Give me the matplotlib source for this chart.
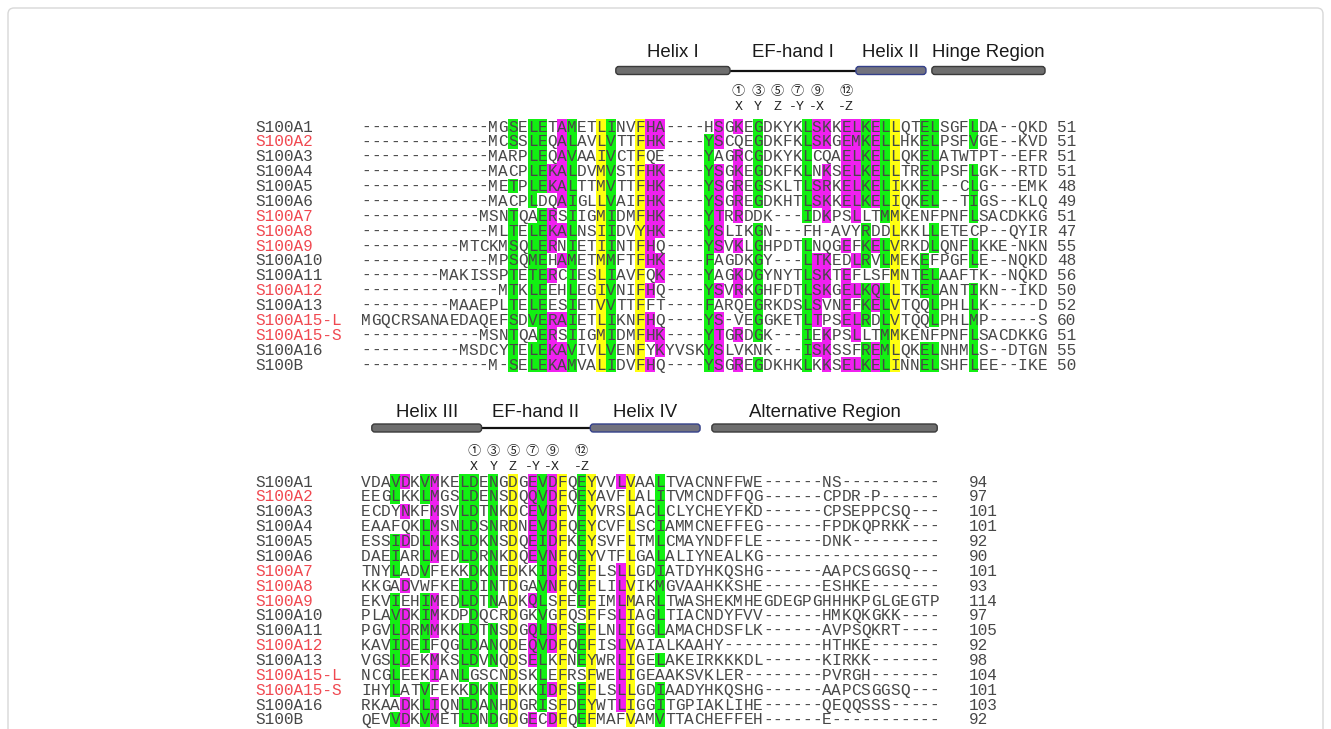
import matplotlib
matplotlib.use('Agg')
import matplotlib.pyplot as plt
from matplotlib.patches import Rectangle, FancyBboxPatch

# ---- data ----
names = ['S100A1', 'S100A2', 'S100A3', 'S100A4', 'S100A5', 'S100A6', 'S100A7',
         'S100A8', 'S100A9', 'S100A10', 'S100A11', 'S100A12', 'S100A13',
         'S100A15-L', 'S100A15-S', 'S100A16', 'S100B']
red_names = ['S100A2', 'S100A7', 'S100A8', 'S100A9', 'S100A12', 'S100A15-L', 'S100A15-S']

top_seqs = [
    "-------------MGSELETAMETLINVFHA----HSGKEGDKYKLSKKELKELLQTELSGFLDA--QKD",
    "-------------MCSSLEQALAVLVTTFHK----YSCQEGDKFKLSKGEMKELLHKELPSFVGE--KVD",
    "-------------MARPLEQAVAAIVCTFQE----YAGRCGDKYKLCQAELKELLQKELATWTPT--EFR",
    "-------------MACPLEKALDVMVSTFHK----YSGKEGDKFKLNKSELKELLTRELPSFLGK--RTD",
    "-------------METPLEKALTTMVTTFHK----YSGREGSKLTLSRKELKELIKKEL--CLG---EMK",
    "-------------MACPLDQAIGLLVAIFHK----YSGREGDKHTLSKKELKELIQKEL--TIGS--KLQ",
    "------------MSNTQAERSIIGMIDMFHK----YTRRDDK---IDKPSLLTMMKENFPNFLSACDKKG",
    "-------------MLTELEKALNSIIDVYHK----YSLIKGN---FH-AVYRDDLKKLLETECP--QYIR",
    "----------MTCKMSQLERNIETIINTFHQ----YSVKLGHPDTLNQGEFKELVRKDLQNFLKKE-NKN",
    "-------------MPSQMEHAMETMMFTFHK----FAGDKGY---LTKEDLRVLMEKEFPGFLE--NQKD",
    "--------MAKISSPTETERCIESLIAVFQK----YAGKDGYNYTLSKTEFLSFMNTELAAFTK--NQKD",
    "--------------MTKLEEHLEGIVNIFHQ----YSVRKGHFDTLSKGELKQLLTKELANTIKN--IKD",
    "---------MAAEPLTELEESIETVVTTFFT----FARQEGRKDSLSVNEFKELVTQQLPHLLK-----D",
    "MGQCRSANAEDAQEFSDVERAIETLIKNFHQ----YS-VEGGKETLTPSELRDLVTQQLPHLMP-----S",
    "------------MSNTQAERSIIGMIDMFHK----YTGRDGK---IEKPSLLTMMKENFPNFLSACDKKG",
    "----------MSDCYTELEKAVIVLVENFYKYVSKYSLVKNK---ISKSSFREMLQKELNHMLS--DTGN",
    "-------------M-SELEKAMVALIDVFHQ----YSGREGDKHKLKKSELKELINNELSHFLEE--IKE",
]
top_marks = [
    "g16 g18 g19 m21 g22 y25 g26 y29 m30 m31 m37 m39 g41 g46 m47 m48 m50 m51 g52 m53 g54 y55 g58 g59 g63",
    "g16 g18 g19 m21 g22 y25 g26 y29 m30 m31 g36 m37 g41 g46 m47 m48 m50 m51 g52 m53 g54 y55 g58 g59 g63",
    "g18 g19 m21 g22 y25 g26 y29 g36 m39 g41 g46 m50 m51 g52 m53 g54 y55 g58 g59",
    "g18 g19 m20 m21 g22 y25 g26 y29 m30 m31 g36 m37 m39 g41 g46 m48 m50 m51 g52 m53 g54 y55 g58 g59 g63",
    "g16 g18 g19 m20 m21 g22 y25 g26 y29 m30 m31 g36 m37 m39 g41 g46 m47 m48 m50 m51 g52 m53 g54 y55 g58 g59 g63",
    "g18 m21 g22 y25 g26 y29 m30 m31 g36 m37 m39 g41 g46 m47 m48 m50 m51 g52 m53 g54 y55 g58 g59 g63",
    "g16 g19 m20 g22 y25 g26 y29 m30 m31 g36 m37 m39 g46 m48 m51 g54 y55 g63",
    "g16 g18 g19 m20 m21 g22 y25 g26 y29 m30 m31 g36 m37 g41 g52 y55 g59",
    "g16 g18 g19 m20 g22 y25 g26 y29 m30 g36 m37 m39 g41 g46 m50 g52 m53 g54 y55 g59 g63",
    "g16 g18 g19 m21 g22 y25 g26 y29 m30 m31 g36 g41 g46 m47 m48 m51 g52 g54 y55 g58 g63",
    "g16 g18 g19 m20 g22 y25 g26 y29 m31 g36 m39 g41 g46 m47 m48 m50 y55 g58 g59",
    "g16 g18 g19 g22 y25 g26 y29 m30 g36 m37 m39 g41 g46 m47 m48 m50 m51 g52 m53 g54 y55 g58 g59 g63",
    "g16 g18 g19 g22 y25 g26 y29 g36 g41 g46 m47 m50 g52 m53 g54 y55 g59 g63",
    "g16 g18 g19 m20 m21 g22 y25 g26 y29 m30 g36 m37 g41 g46 m47 m50 m51 g52 g54 y55 g59 g63",
    "g16 g19 m20 g22 y25 g26 y29 m30 m31 g36 m37 m39 g41 g46 m48 m51 g54 y55 g63",
    "g16 g18 g19 m20 m21 g22 y25 g26 y29 m31 g36 m37 g46 m47 m48 g52 m53 g54 y55 g58 g59 g63",
    "g16 g18 g19 m20 m21 g22 y25 g26 y29 m30 g36 m37 m39 g41 g46 m48 m50 m51 g52 m53 g54 y55 g58 g59 g63",
]
top_counts = [51, 51, 51, 51, 48, 49, 51, 47, 55, 48, 56, 50, 52, 60, 51, 55, 50]

bottom_seqs = [
    "VDAVDKVMKELDENGDGEVDFQEYVVLVAALTVACNNFFWE------NS----------",
    "EEGLKKLMGSLDENSDQQVDFQEYAVFLALITVMCNDFFQG------CPDR-P------",
    "ECDYNKFMSVLDTNKDCEVDFVEYVRSLACLCLYCHEYFKD------CPSEPPCSQ---",
    "EAAFQKLMSNLDSNRDNEVDFQEYCVFLSCIAMMCNEFFEG------FPDKQPRKK---",
    "ESSIDDLMKSLDKNSDQEIDFKEYSVFLTMLCMAYNDFFLE------DNK---------",
    "DAEIARLMEDLDRNKDQEVNFQEYVTFLGALALIYNEALKG------------------",
    "TNYLADVFEKKDKNEDKKIDFSEFLSLLGDIATDYHKQSHG------AAPCSGGSQ---",
    "KKGADVWFKELDINTDGAVNFQEFLILVIKMGVAAHKKSHE------ESHKE-------",
    "EKVIEHIMEDLDTNADKQLSFEEFIMLMARLTWASHEKMHEGDEGPGHHHKPGLGEGTP",
    "PLAVDKIMKDPDQCRDGKVGFQSFFSLIAGLTIACNDYFVV------HMKQKGKK----",
    "PGVLDRMMKKLDTNSDGQLDFSEFLNLIGGLAMACHDSFLK------AVPSQKRT----",
    "KAVIDEIFQGLDANQDEQVDFQEFISLVAIALKAAHY----------HTHKE-------",
    "VGSLDEKMKSLDVNQDSELKFNEYWRLIGELAKEIRKKKDL------KIRKK-------",
    "NCGLEEKIANLGSCNDSKLEFRSFWELIGEAAKSVKLER--------PVRGH-------",
    "IHYLATVFEKKDKNEDKKIDFSEFLSLLGDIAADYHKQSHG------AAPCSGGSQ---",
    "RKAADKLIQNLDANHDGRISFDEYWTLIGGITGPIAKLIHE------QEQQSSS-----",
    "QEVVDKVMETLDNDGDGECDFQEFMAFVAMVTTACHEFFEH------E-----------",
]
bottom_marks = [
    "g4 m5 g7 m8 g11 g12 g14 y16 m18 g19 m20 y21 g23 y24 m27 y28 g31",
    "g4 g7 m8 g11 g12 g14 y16 m18 g19 m20 y21 g23 y24 y28 g31",
    "m5 m8 g11 g12 g14 y16 m18 g19 m20 y21 g23 y24 y28 g31",
    "g7 m8 g11 g12 g14 y16 m18 g19 m20 y21 g23 y24 y28 g31",
    "g4 m5 g7 m8 g11 g12 g14 y16 m18 g19 m20 y21 g23 y24 y28 g31",
    "g4 g7 m8 g11 g12 g14 y16 m18 g19 m20 y21 g23 y24 y28 g31",
    "g4 g7 g12 g14 y16 g19 m20 y21 g23 y24 m27 y28 g31",
    "m5 g11 g12 g14 y16 g19 m20 y21 g23 y24 m27 y28 g31",
    "g4 g7 m8 g11 g12 g14 y16 m18 g19 y21 g23 y24 m27 y28 g31",
    "g4 m5 g7 m8 g12 y16 g19 y21 y24 m27 y28 g31",
    "g4 m5 g7 m8 g11 g12 g14 y16 m18 g19 m20 y21 g23 y24 m27 y28 g31",
    "g4 m5 g7 g11 g12 g14 y16 m18 g19 m20 y21 g23 y24 m27 y28",
    "g4 m5 m8 g11 g12 g14 y16 m18 g19 y21 g23 y24 m27 y28 g31",
    "g4 m8 g11 y16 g19 y21 y24 m27 y28",
    "g4 g7 g12 g14 y16 g19 m20 y21 g23 y24 m27 y28 g31",
    "m5 g7 m8 g11 g12 g14 y16 g19 y21 g23 y24 m27 y28 g31",
    "g4 m5 g7 m8 g11 g12 g14 y16 m18 m20 y21 g23 y24 y28 g31",
]
bottom_counts = [94, 97, 101, 101, 92, 90, 101, 93, 114, 97, 105, 92, 98, 104, 101, 103, 92]

# header: (label, start col, end col, kind) ; kind: helix / helix2 / loop
top_regions = [("Helix I", 27.0, 38.65, "helix"), ("EF-hand I", 38.65, 51.5, "loop"),
               ("Helix II", 51.5, 58.65, "helix2"), ("Hinge Region", 59.25, 70.8, "helix")]
bottom_regions = [("Helix III", 2.1, 13.3, "helix"), ("EF-hand II", 13.3, 24.4, "loop"),
                  ("Helix IV", 24.4, 35.6, "helix2"), ("Alternative Region", 36.8, 59.8, "helix")]
top_loop_cols = [39, 41, 43, 45, 47, 50]
bottom_loop_cols = [12, 14, 16, 18, 20, 23]
loop_nums = ['\u2460', '\u2462', '\u2464', '\u2466', '\u2468', '\u246b']
loop_axes = ['X', 'Y', 'Z', '-Y', '-X', '-Z']

# ---- layout ----
W, H = 1331, 729
X0 = 361.0        # left edge of column 1
CW = 9.8          # column width
RH = 14.875       # row height
NAME_X = 255
colors = {'g': '#12f012', 'm': '#f020f0', 'y': '#ffff10'}
txt_col = '#474747'
red_col = '#f04850'
mono = 'Liberation Mono'
fs = 11.6

fig = plt.figure(figsize=(W / 100, H / 100), dpi=100)
ax = fig.add_axes([0, 0, 1, 1])
ax.set_xlim(0, W)
ax.set_ylim(H, 0)
ax.axis('off')

ax.add_patch(FancyBboxPatch((8, 8), W - 16, H + 20, boxstyle='round,pad=0,rounding_size=6',
                            fc='white', ec='#d8d8d8', lw=1))


def colx(c):
    return X0 + (c - 1) * CW


def draw_block(seqs, marks, counts, y0, count_col):
    for i, (nm, s, mk, n) in enumerate(zip(names, seqs, marks, counts)):
        y = y0 + i * RH
        for tok in mk.split():
            c = int(tok[1:])
            ax.add_patch(Rectangle((colx(c), y - RH / 2), CW, RH, fc=colors[tok[0]], ec='none', zorder=1))
        col = red_col if nm in red_names else txt_col
        ax.text(NAME_X, y + 5, nm, fontsize=fs, family=mono, color=col, va='baseline', ha='left', zorder=3)
        for j, ch in enumerate(s):
            ax.text(colx(j + 1) + CW / 2, y + 5, ch, fontsize=fs, family=mono, color=txt_col,
                    va='baseline', ha='center', zorder=3)
        ax.text(colx(count_col), y + 5, str(n), fontsize=fs, family=mono, color=txt_col,
                va='baseline', ha='left', zorder=3)


def draw_header(regions, loop_cols, y_label, y_bar, y_num, y_axis):
    for label, c0, c1, kind in regions:
        x0, x1 = colx(c0), colx(c1)
        if kind == 'loop':
            ax.plot([x0, x1], [y_bar, y_bar], color='#111111', lw=1.6, zorder=2, solid_capstyle='butt')
        else:
            fc = '#6e6e6e' if kind == 'helix' else '#72727e'
            ec = '#3a3a3a' if kind == 'helix' else '#34408a'
            ax.add_patch(FancyBboxPatch((x0, y_bar - 4), x1 - x0, 8,
                                        boxstyle='round,pad=0,rounding_size=3',
                                        fc=fc, ec=ec, lw=1.0, zorder=3))
        ax.text((x0 + x1) / 2, y_label, label, fontsize=13.4, family='Liberation Sans',
                color='#1a1a1a', ha='center', va='center')
    for c, num, lab in zip(loop_cols, loop_nums, loop_axes):
        xc = colx(c) + CW / 2
        ax.text(xc, y_num, num, fontsize=9.5, family=['Noto Sans CJK JP', 'DejaVu Sans'],
                color='#222222', ha='center', va='center')
        ax.text(xc, y_axis, lab, fontsize=9.5, family=mono, color='#222222', ha='center', va='center')


draw_header(top_regions, top_loop_cols, 52, 70.5, 91, 107)
draw_header(bottom_regions, bottom_loop_cols, 412, 428, 451, 467)
draw_block(top_seqs, top_marks, top_counts, 126.5, 72)
draw_block(bottom_seqs, bottom_marks, bottom_counts, 481.5, 63)

fig.savefig('out.png', dpi=100, facecolor='white')
